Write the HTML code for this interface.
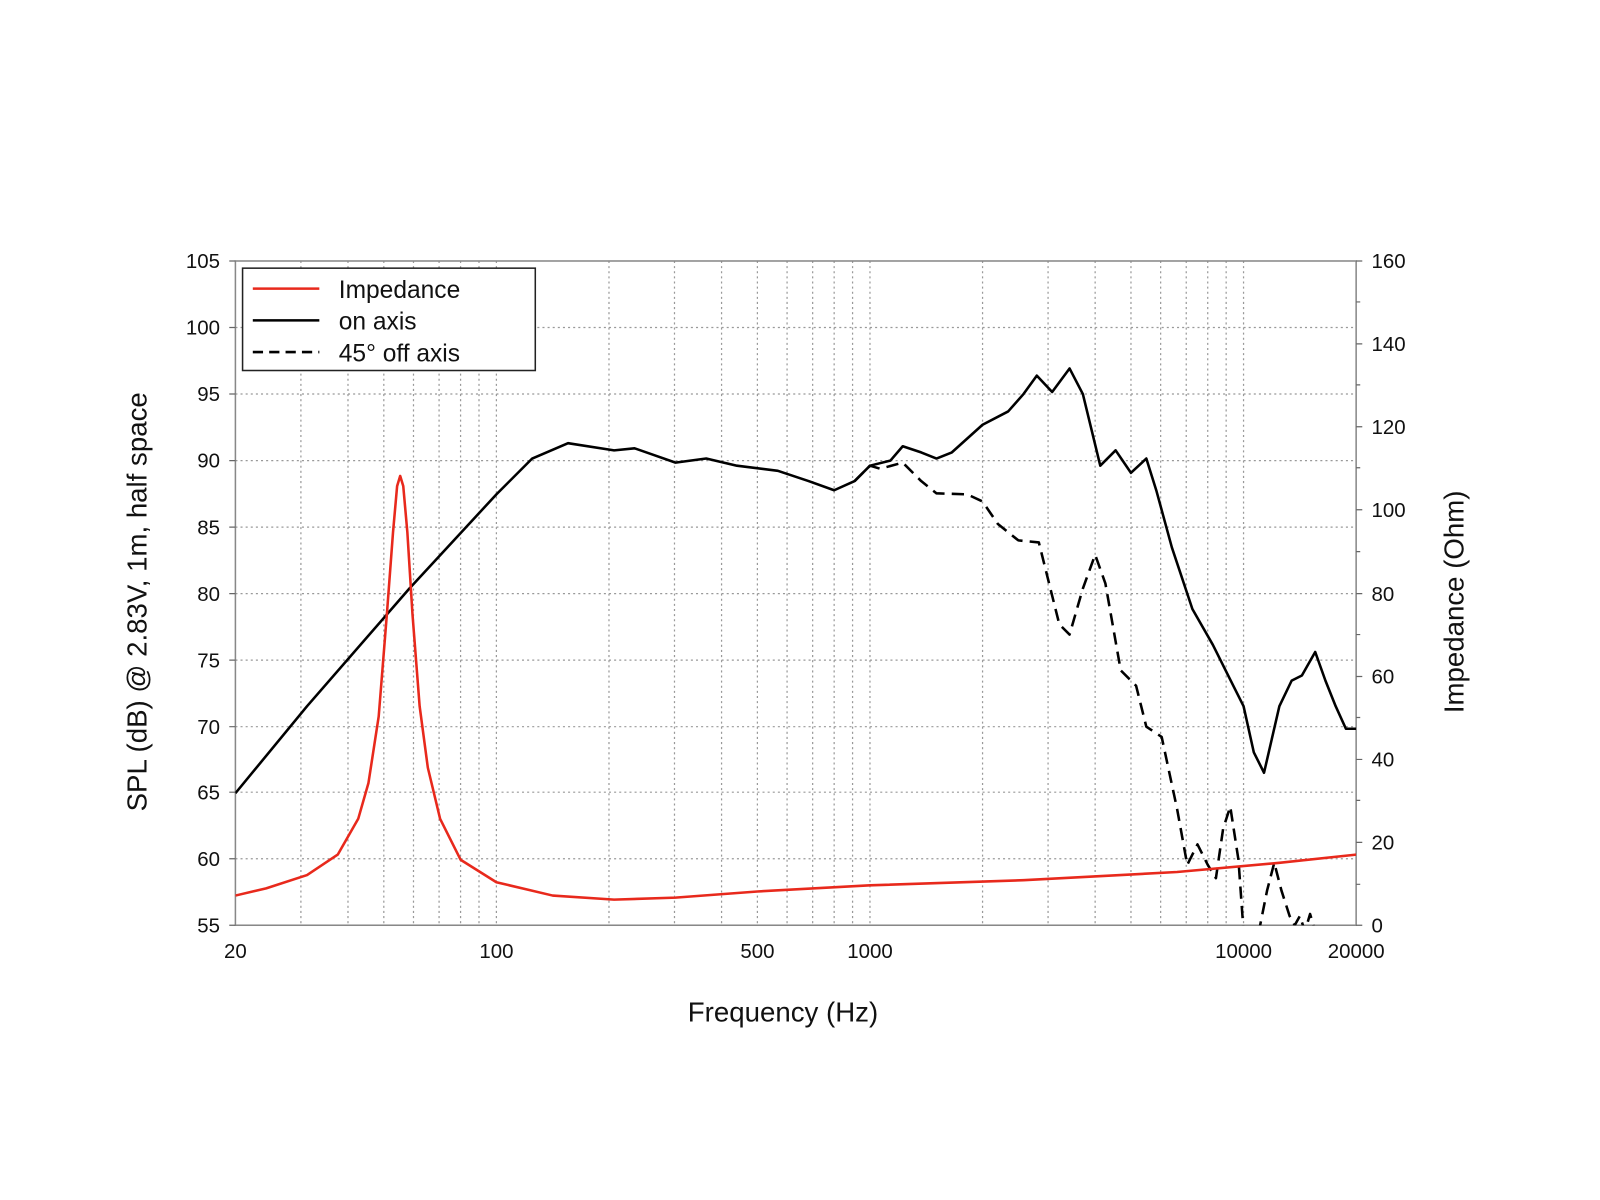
<!DOCTYPE html>
<html><head><meta charset="utf-8"><style>
body{margin:0;background:#fff;}
svg{display:block;font-family:"Liberation Sans",sans-serif;}
</style></head><body>
<svg width="1600" height="1200" viewBox="0 0 1600 1200" xmlns="http://www.w3.org/2000/svg">
<rect width="1600" height="1200" fill="#fff"/>
<g transform="scale(1.0235)">
<g stroke="#999" stroke-width="1.2" stroke-dasharray="2,3" fill="none">
<path d="M294 255V904M340 255V904M375 255V904M404 255V904M429 255V904M450 255V904M468 255V904M485 255V904M595 255V904M659 255V904M705 255V904M740 255V904M769 255V904M794 255V904M815 255V904M833 255V904M850 255V904M960 255V904M1024 255V904M1070 255V904M1105 255V904M1134 255V904M1159 255V904M1180 255V904M1198 255V904M1215 255V904"/>
<path d="M230 320H1325M230 385H1325M230 450H1325M230 515H1325M230 580H1325M230 645H1325M230 710H1325M230 774H1325M230 839H1325"/>
</g>
<rect x="230" y="255" width="1095" height="649" fill="none" stroke="#888" stroke-width="1.5"/>
<g stroke="#666" stroke-width="1.2">
<path d="M224 255H230M224 320H230M224 385H230M224 450H230M224 515H230M224 580H230M224 645H230M224 710H230M224 774H230M224 839H230M224 904H230"/>
<path d="M1325 255H1331M1325 336H1331M1325 417H1331M1325 498H1331M1325 580H1331M1325 661H1331M1325 742H1331M1325 823H1331M1325 904H1331"/>
<path d="M1325 295H1329M1325 376H1329M1325 457H1329M1325 539H1329M1325 620H1329M1325 701H1329M1325 782H1329M1325 864H1329"/>
</g>
<g font-size="20" fill="#111" text-anchor="end">
<text x="215" y="262">105</text><text x="215" y="327">100</text><text x="215" y="392">95</text><text x="215" y="457">90</text><text x="215" y="522">85</text><text x="215" y="587">80</text><text x="215" y="652">75</text><text x="215" y="717">70</text><text x="215" y="781">65</text><text x="215" y="846">60</text><text x="215" y="911">55</text>
</g>
<g font-size="20" fill="#111" text-anchor="start">
<text x="1340" y="262">160</text><text x="1340" y="343">140</text><text x="1340" y="424">120</text><text x="1340" y="505">100</text><text x="1340" y="587">80</text><text x="1340" y="668">60</text><text x="1340" y="749">40</text><text x="1340" y="830">20</text><text x="1340" y="911">0</text>
</g>
<g font-size="20" fill="#111" text-anchor="middle">
<text x="230" y="936">20</text><text x="485" y="936">100</text><text x="740" y="936">500</text><text x="850" y="936">1000</text><text x="1215" y="936">10000</text><text x="1325" y="936">20000</text>
</g>
<text x="765" y="998" font-size="27" text-anchor="middle" fill="#111">Frequency (Hz)</text>
<text transform="translate(143,588) rotate(-90)" font-size="27" text-anchor="middle" fill="#111">SPL (dB) @ 2.83V, 1m, half space</text>
<text transform="translate(1430,588) rotate(-90)" font-size="27" text-anchor="middle" fill="#111">Impedance (Ohm)</text>
<defs><clipPath id="c"><rect x="230" y="255" width="1095" height="649"/></clipPath></defs>
<g clip-path="url(#c)" fill="none" stroke-linejoin="round">
<polyline stroke="#000" stroke-width="2.5" stroke-dasharray="12,7" points="835,470 850,455 860,458 882,452 900,470 915,482 945,483 960,490 975,512 995,528 1015,530 1025,570 1035,610 1045,620 1058,575 1070,542 1080,570 1095,655 1110,670 1120,710 1135,720 1150,790 1160,845 1170,825 1180,845 1188,858 1195,810 1202,788 1210,840 1215,910 1230,910 1238,870 1245,843 1252,870 1260,895 1265,904 1270,895 1275,910 1280,893 1285,910"/>
<polyline stroke="#000" stroke-width="2.5" points="230,775 300,690 400,575 485,483 520,448 555,433 600,440 620,438 640,445 660,452 690,448 720,455 760,460 790,470 815,479 835,470 850,455 870,450 882,436 900,442 915,448 930,442 960,415 985,402 1000,385 1013,367 1028,383 1045,360 1058,385 1075,455 1090,440 1105,462 1120,448 1130,480 1145,535 1165,595 1185,630 1200,660 1215,690 1225,735 1235,755 1250,690 1262,665 1272,660 1285,637 1295,665 1305,690 1315,712 1325,712"/>
<polyline stroke="#e8291c" stroke-width="2.5" points="230,875 260,868 300,855 330,835 350,800 360,765 370,700 378,600 384,520 388,475 391,465 394,475 398,520 403,600 410,690 418,750 430,800 450,840 485,862 540,875 600,879 660,877 740,871 850,865 1000,860 1150,852 1250,843 1325,835"/>
</g>
<rect x="237" y="262" width="286" height="100" fill="#fff" stroke="#222" stroke-width="1.5"/>
<line x1="247" y1="282" x2="312" y2="282" stroke="#e8291c" stroke-width="2.5"/>
<line x1="247" y1="313" x2="312" y2="313" stroke="#000" stroke-width="2.5"/>
<line x1="247" y1="344" x2="312" y2="344" stroke="#000" stroke-width="2.5" stroke-dasharray="10,6"/>
<g font-size="24" fill="#111">
<text x="331" y="291">Impedance</text><text x="331" y="322">on axis</text><text x="331" y="353">45° off axis</text>
</g>
</g>
</svg>
</body></html>
